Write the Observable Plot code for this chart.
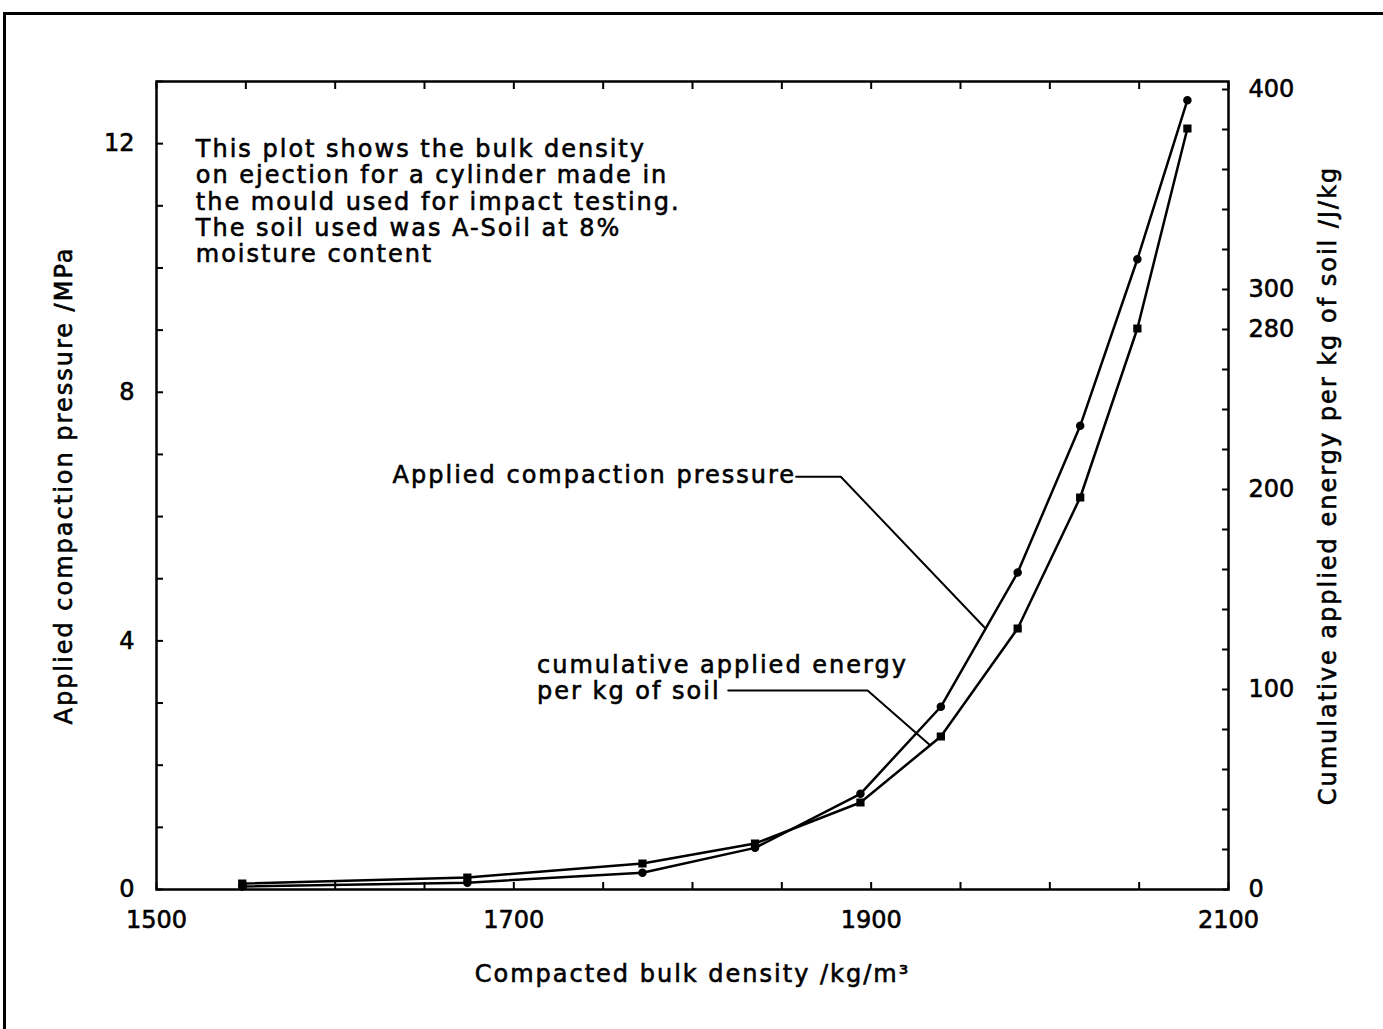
<!DOCTYPE html>
<html>
<head>
<meta charset="utf-8">
<script src="https://cdn.jsdelivr.net/npm/d3@7"></script>
<script src="https://cdn.jsdelivr.net/npm/@observablehq/plot@0.6"></script>
<style>
  html, body { margin: 0; padding: 0; background: white; overflow: hidden; }
  #wrap { position: relative; width: 1383px; height: 1029px; }
  #border { position: absolute; left: 3px; top: 12px; width: 1400px; height: 1100px;
            border-left: 3px solid black; border-top: 3px solid black; pointer-events: none; z-index: 2; }
  svg text { letter-spacing: 2px; stroke: black; stroke-width: 0.6px; }
  svg g[aria-label$="tick label"] text { letter-spacing: 0; }
</style>
</head>
<body>
<div id="wrap"><div id="border"></div></div>
<script>
// ---- data ----
const density = [1548, 1674, 1772, 1835, 1894, 1939, 1982, 2017, 2049, 2077];          // kg/m3
const pressureMPa = [0.05, 0.11, 0.27, 0.67, 1.54, 2.94, 5.10, 7.46, 10.14, 12.70];    // left axis
const energyJkg = [3, 6, 13, 23, 43.5, 76.5, 130.5, 196, 280.5, 380.5];                // right axis

const xTickLabels = [1500, 1700, 1900, 2100];
const xMinorTicks = d3.range(1500, 2101, 50);
const leftTickLabels = [0, 4, 8, 12];
const leftMinorTicks = d3.range(0, 14, 1);
const rightTickLabels = [0, 100, 200, 280, 300, 400];
const rightMinorTicks = d3.range(0, 401, 20);

const noteText = "This plot shows the bulk density\non ejection for a cylinder made in\nthe mould used for impact testing.\nThe soil used was A-Soil at 8%\nmoisture content";
const pressureLabel = "Applied compaction pressure";
const energyLabel = "cumulative applied energy\nper kg of soil";

// ---- scale mapping for the secondary (right) axis ----
const yMax = 13;          // MPa at top of frame
const eMax = 404;         // J/kg at top of frame
const k = yMax / eMax;    // J/kg -> MPa-equivalent position

const pressure = density.map((d, i) => ({x: d, y: pressureMPa[i]}));
const energy = density.map((d, i) => ({x: d, y: energyJkg[i] * k}));

// annotation anchors (data units)
const noteAt = [{x: 1522, y: 12.08, text: noteText}];
const pressureAt = [{x: 1858, y: 6.67, text: pressureLabel}];
const energyAt = [{x: 1713, y: 3.41, text: energyLabel}];
const pressureLeader = [{x: 1858, y: 6.64}, {x: 1883, y: 6.64}, {x: 1964, y: 4.20}];
const energyLeader = [{x: 1820, y: 3.20}, {x: 1898, y: 3.20}, {x: 1933, y: 2.32}];

const fmt = d3.format("d");

const chart = Plot.plot({
  width: 1383,
  height: 1029,
  marginLeft: 156,
  marginRight: 155,
  marginTop: 81,
  marginBottom: 140,
  x: {domain: [1500, 2100]},
  y: {domain: [0, yMax]},
  style: {fontFamily: "'DejaVu Sans', sans-serif", fontSize: "24px", color: "black", background: "transparent"},
  marks: [
    // minor ticks (inward)
    Plot.axisX({ticks: xMinorTicks, tickSize: -7, strokeWidth: 2, text: null, label: null}),
    Plot.axisX({anchor: "top", ticks: xMinorTicks, tickSize: -7, strokeWidth: 2, text: null, label: null}),
    Plot.axisY({ticks: leftMinorTicks, tickSize: -7, strokeWidth: 2, text: null, label: null}),
    Plot.axisY({anchor: "right", ticks: rightMinorTicks.map(v => v * k), tickSize: -7, strokeWidth: 2, text: null, label: null}),
    // labelled axes
    Plot.axisX({ticks: xTickLabels, tickSize: 0, tickPadding: 21, tickFormat: fmt, fontSize: 24,
      label: "Compacted bulk density /kg/m³", labelAnchor: "center", labelOffset: 92, labelArrow: "none"}),
    Plot.axisY({ticks: leftTickLabels, tickSize: 0, tickPadding: 22, tickFormat: fmt, fontSize: 24,
      label: "Applied compaction pressure /MPa", labelAnchor: "center", labelOffset: 102, labelArrow: "none"}),
    Plot.axisY({anchor: "right", ticks: rightTickLabels.map(v => v * k), tickSize: 0, tickPadding: 20,
      tickFormat: v => fmt(Math.round(v / k)), fontSize: 24,
      label: "Cumulative applied energy per kg of soil /J/kg", labelAnchor: "center", labelOffset: 107, labelArrow: "none"}),
    Plot.frame({stroke: "black", strokeWidth: 2.5}),
    // series
    Plot.line(pressure, {x: "x", y: "y", stroke: "black", strokeWidth: 2.5}),
    Plot.line(energy, {x: "x", y: "y", stroke: "black", strokeWidth: 2.5}),
    Plot.dot(pressure, {x: "x", y: "y", r: 3.5, fill: "black", stroke: "black", symbol: "circle"}),
    Plot.dot(energy, {x: "x", y: "y", r: 3.8, fill: "black", stroke: "black", symbol: "square"}),
    // annotations
    Plot.line(pressureLeader, {x: "x", y: "y", stroke: "black", strokeWidth: 2}),
    Plot.line(energyLeader, {x: "x", y: "y", stroke: "black", strokeWidth: 2}),
    Plot.text(noteAt, {x: "x", y: "y", text: "text", textAnchor: "start", lineAnchor: "top", lineHeight: 1.09,
      fontSize: 24, fill: "black"}),
    Plot.text(pressureAt, {x: "x", y: "y", text: "text", textAnchor: "end", lineAnchor: "middle",
      fontSize: 24, fill: "black"}),
    Plot.text(energyAt, {x: "x", y: "y", text: "text", textAnchor: "start", lineAnchor: "middle", lineHeight: 1.09,
      fontSize: 24, fill: "black"})
  ]
});
document.getElementById("wrap").appendChild(chart);
</script>
</body>
</html>
